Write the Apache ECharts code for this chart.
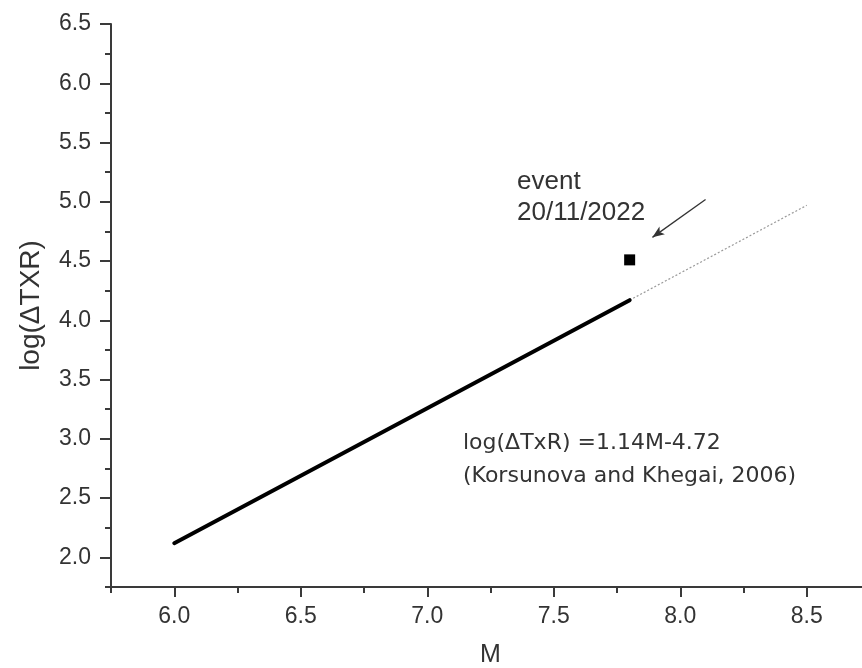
<!DOCTYPE html>
<html>
<head>
<meta charset="utf-8">
<script src="https://cdn.jsdelivr.net/npm/echarts@6/dist/echarts.min.js"></script>
<style>html,body{margin:0;padding:0;background:#fff}#c{width:862px;height:668px}</style>
</head>
<body>
<div id="c"></div>
<script>
// Data
const fitSolid = [[6.0, 2.12], [7.8, 4.17]];
const fitDotted = [[7.8, 4.17], [8.5, 4.97]];
const eventPoint = [[7.8, 4.51]];
const arrowFrom = [8.1, 5.02];
const arrowTo = [7.89, 4.70];
const xMajorTicks = [6.0, 6.5, 7.0, 7.5, 8.0, 8.5];
const xMinorTicks = [5.75, 6.25, 6.75, 7.25, 7.75, 8.25, 8.75];
const yMajorTicks = [2.0, 2.5, 3.0, 3.5, 4.0, 4.5, 5.0, 5.5, 6.0, 6.5];
const yMinorTicks = [1.75, 2.25, 2.75, 3.25, 3.75, 4.25, 4.75, 5.25, 5.75, 6.25];
const xName = 'M';
const yName = 'log(\u0394TXR)';
const eventText = ['event', '20/11/2022'];
const eqText = ['log(\u0394TxR) =1.14M-4.72', '(Korsunova and Khegai, 2006)'];

const chart = echarts.init(document.getElementById('c'));
const axisColor = '#3a3a3a';
const labelColor = '#333';
const baseFont = 'Liberation Sans, Arial, sans-serif';
const grid = {left: 111, top: 24, width: 759, height: 563, containLabel: false, outerBoundsMode: 'none'};

function xAxisDef(ticks, len, show) {
  return {
    type: 'value', min: 5.75, max: 8.75, gridIndex: 0, position: 'bottom', offset: 0,
    axisLine: {show: show, onZero: false, lineStyle: {color: axisColor, width: 2}},
    splitLine: {show: false},
    axisTick: {show: true, customValues: ticks, length: len, inside: false, lineStyle: {color: axisColor, width: 2}},
    axisLabel: show ? {show: true, customValues: ticks, formatter: v => v.toFixed(1), color: labelColor, fontSize: 23, fontFamily: baseFont, margin: 18} : {show: false},
    name: show ? xName : '', nameLocation: 'middle', nameGap: 56,
    nameTextStyle: {color: labelColor, fontSize: 25, fontFamily: baseFont}
  };
}
function yAxisDef(ticks, len, show) {
  return {
    type: 'value', min: 1.75, max: 6.5, gridIndex: 0, position: 'left', offset: 0,
    axisLine: {show: show, onZero: false, lineStyle: {color: axisColor, width: 2}},
    splitLine: {show: false},
    axisTick: {show: true, customValues: ticks, length: len, inside: false, lineStyle: {color: axisColor, width: 2}},
    axisLabel: show ? {show: true, customValues: ticks, formatter: v => v.toFixed(1), color: labelColor, fontSize: 23, fontFamily: baseFont, margin: 20} : {show: false},
    name: show ? yName : '', nameLocation: 'middle', nameGap: 66, nameRotate: 90,
    nameTextStyle: {color: labelColor, fontSize: 28, fontFamily: baseFont}
  };
}

chart.setOption({
  animation: false,
  backgroundColor: '#fff',
  grid: grid,
  xAxis: [xAxisDef(xMajorTicks, 10, true), xAxisDef(xMinorTicks, 6, false)],
  yAxis: [yAxisDef(yMajorTicks, 11, true), yAxisDef(yMinorTicks, 6, false)],
  series: [
    {type: 'line', data: fitDotted, symbol: 'none', lineStyle: {color: '#999', width: 1.2, type: [2, 2]}, z: 2},
    {type: 'line', data: fitSolid, symbol: 'none', lineStyle: {color: '#000', width: 4, cap: 'round'}, z: 3,
     markLine: {silent: true, symbol: ['none', 'arrow'], symbolSize: [7, 12], label: {show: false},
       lineStyle: {color: '#333', width: 1.3, type: 'solid'},
       data: [[{coord: arrowFrom}, {coord: arrowTo}]]}},
    {type: 'scatter', data: eventPoint, symbol: 'rect', symbolSize: 11, itemStyle: {color: '#000', opacity: 1}, z: 4}
  ],
  graphic: [
    {type: 'text', left: 517, top: 166, style: {text: eventText.join('\n'), fill: labelColor, font: '26px ' + baseFont, lineHeight: 31}},
    {type: 'text', left: 463, top: 427, style: {text: eqText.join('\n'), fill: labelColor, font: '22px DejaVu Sans, sans-serif', lineHeight: 33}}
  ]
});
</script>
</body>
</html>
